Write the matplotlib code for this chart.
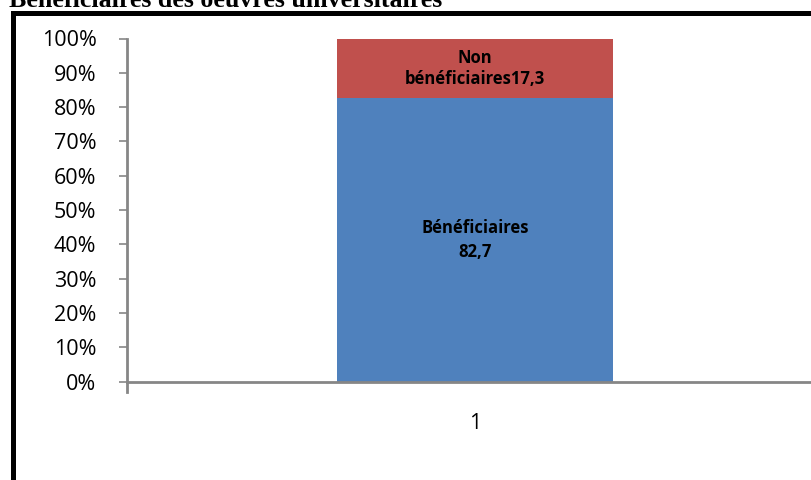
import matplotlib
matplotlib.use("Agg")
import matplotlib.pyplot as plt
from matplotlib.patches import Rectangle
from matplotlib.ticker import FuncFormatter

categories = ["1"]
beneficiaires = [82.7]
non_beneficiaires = [17.3]
labels_benef = ["Bénéficiaires\n82,7"]
labels_non = ["Non\nbénéficiaires17,3"]
title = "Bénéficiaires des oeuvres universitaires"

W, H = 812, 480
fig = plt.figure(figsize=(W / 100, H / 100), dpi=100)

# plot area in pixel coordinates (left, top, right, bottom)
L, T, R, B = 127, 38.5, 823, 381.5
ax = fig.add_axes([L / W, 1 - B / H, (R - L) / W, (B - T) / H])

x = list(range(len(categories)))
blue = "#4f81bd"
red = "#c0504d"
bw = 0.397
ax.bar(x, beneficiaires, width=bw, color=blue, zorder=2)
ax.bar(x, non_beneficiaires, width=bw, bottom=beneficiaires, color=red, zorder=2)

for xi, b, n, lb, ln in zip(x, beneficiaires, non_beneficiaires, labels_benef, labels_non):
    ax.text(xi, b / 2, lb, ha="center", va="center", fontsize=12, fontweight="bold",
            family="Open Sans", linespacing=1.45, color="black")
    ax.text(xi, b + n / 2, ln, ha="center", va="center", fontsize=12, fontweight="bold",
            family="Open Sans", linespacing=1.2, color="black")

ax.set_xlim(-0.5, 0.5)
ax.set_ylim(0, 100)
ax.set_yticks(range(0, 101, 10))
ax.yaxis.set_major_formatter(FuncFormatter(lambda v, p: f"{int(v)}%"))
ax.set_xticks(x)
ax.set_xticklabels(categories)
ax.tick_params(axis="x", length=0, pad=23, labelsize=15.5)
ax.tick_params(axis="y", length=6, width=1.2, color="#868686", pad=16, labelsize=15.5)
for lab in ax.get_xticklabels() + ax.get_yticklabels():
    lab.set_family("Open Sans")

# category boundary tick below the axis
ax.plot([-0.5, -0.5], [0, -3.2], color="#868686", lw=2, clip_on=False, zorder=3)

for s in ["top", "right"]:
    ax.spines[s].set_visible(False)
for s in ["left", "bottom"]:
    ax.spines[s].set_color("#868686")
    ax.spines[s].set_linewidth(2)

# outer frame around the chart
frame = Rectangle((13.5 / W, -0.1), 1.2, 1 - 13 / H + 0.1, transform=fig.transFigure,
                  fill=False, edgecolor="black", linewidth=3.6, zorder=0)
fig.patches.append(frame)

fig.text(9 / W, 1 - 7 / H, title, ha="left", va="baseline", fontsize=18.7,
         fontweight="bold", family="Liberation Serif")

fig.savefig("out.png", dpi=100)
